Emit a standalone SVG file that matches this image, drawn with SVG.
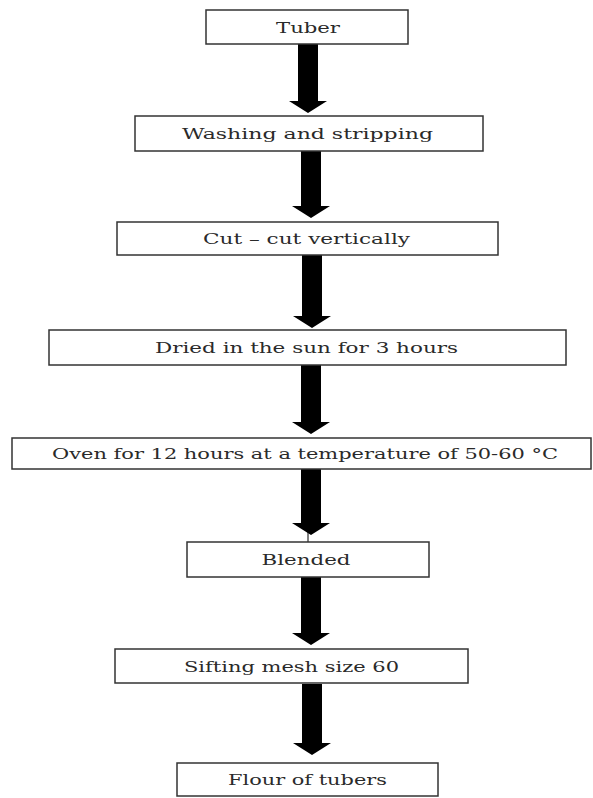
<svg xmlns="http://www.w3.org/2000/svg" width="593" height="798" viewBox="0 0 593 798">
<style>
.box{fill:#fff;stroke:#333;stroke-width:1.5}
.lbl{font-family:"DejaVu Serif","Liberation Serif",serif;font-size:15px;fill:#2a2a2a;text-anchor:middle}
.arr{fill:#000}
</style>
<rect width="593" height="798" fill="#fff"/>
<g id="connectors">
<polygon class="arr" points="298,44 318,44 318,101 327,101 308,113 289,101 298,101"/>
<polygon class="arr" points="301,151 321,151 321,206 330,206 311,218 292,206 301,206"/>
<polygon class="arr" points="302,255 322,255 322,316 331,316 312,328 293,316 302,316"/>
<polygon class="arr" points="301,365 321,365 321,422 330,422 311,434 292,422 301,422"/>
<polygon class="arr" points="301,469 321,469 321,523 330,523 311,535 292,523 301,523"/>
<line x1="308" y1="530" x2="308" y2="543" stroke="#000" stroke-width="1"/>
<polygon class="arr" points="301,577 321,577 321,633 330,633 311,645 292,633 301,633"/>
<polygon class="arr" points="302,684 322,684 322,743 331,743 312,755 293,743 302,743"/>
</g>
<g id="n1"><rect class="box" x="206" y="10" width="202" height="34"/><text class="lbl" x="308" y="33" textLength="64" lengthAdjust="spacingAndGlyphs">Tuber</text></g>
<g id="n2"><rect class="box" x="135" y="116" width="348" height="35"/><text class="lbl" x="307.5" y="139" textLength="251" lengthAdjust="spacingAndGlyphs">Washing and stripping</text></g>
<g id="n3"><rect class="box" x="117" y="222" width="381" height="33"/><text class="lbl" x="306.5" y="244" textLength="207" lengthAdjust="spacingAndGlyphs">Cut – cut vertically</text></g>
<g id="n4"><rect class="box" x="49" y="330" width="517" height="35"/><text class="lbl" x="306.5" y="353" textLength="303" lengthAdjust="spacingAndGlyphs">Dried in the sun for 3 hours</text></g>
<g id="n5"><rect class="box" x="12" y="438" width="579" height="31"/><text class="lbl" x="305" y="459" textLength="506" lengthAdjust="spacingAndGlyphs">Oven for 12 hours at a temperature of 50-60 °C</text></g>
<g id="n6"><rect class="box" x="187" y="542" width="242" height="35"/><text class="lbl" x="306" y="565" textLength="89" lengthAdjust="spacingAndGlyphs">Blended</text></g>
<g id="n7"><rect class="box" x="115" y="649" width="353" height="34"/><text class="lbl" x="291.5" y="672" textLength="215" lengthAdjust="spacingAndGlyphs">Sifting mesh size 60</text></g>
<g id="n8"><rect class="box" x="177" y="763" width="261" height="33"/><text class="lbl" x="307.5" y="785" textLength="159" lengthAdjust="spacingAndGlyphs">Flour of tubers</text></g>
</svg>
